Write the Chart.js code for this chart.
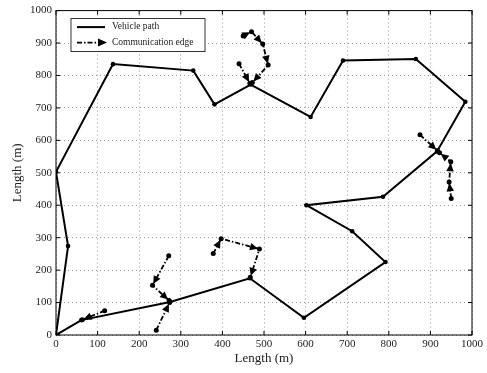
<!DOCTYPE html>
<html>
<head>
<meta charset="utf-8">
<script src="https://cdn.jsdelivr.net/npm/chart.js@4.4.1/dist/chart.umd.min.js"></script>
<style>
  html, body { margin: 0; padding: 0; background: #fff; }
  #wrap { width: 487px; height: 373px; }
</style>
</head>
<body>
<div id="wrap"><canvas id="chart" width="487" height="373"></canvas></div>
<script>
// axis ticks
const tickValues = [0, 100, 200, 300, 400, 500, 600, 700, 800, 900, 1000];
const tickLabels = ['0', '100', '200', '300', '400', '500', '600', '700', '800', '900', '1000'];

// vehicle path waypoints
const pathX = [0, 29, 0, 137, 330, 381, 468, 612, 690, 865, 984, 916, 786, 602, 712, 792, 596, 466, 274, 61, 0];
const pathY = [0, 274, 503, 835, 815, 711, 772, 672, 846, 851, 719, 566, 426, 400, 320, 225, 53, 175, 102, 46, 0];

// communication edges (chains of [x, y], arrow at the end of each segment)
const commTopA = [[440, 836], [466, 776]];
const commTopB = [[450, 922], [470, 935], [497, 897], [510, 832], [472, 778]];
const commRightA = [[875, 617], [917, 568]];
const commRightB = [[950, 421], [945, 472], [949, 534], [922, 562]];
const commMidA = [[378, 251], [397, 297], [489, 265], [467, 178]];
const commLowA = [[271, 244], [232, 153], [272, 106]];
const commLowB = [[241, 15], [273, 100]];
const commLowC = [[117, 75], [63, 47]];

const commEdges = [commTopA, commTopB, commRightA, commRightB, commMidA, commLowA, commLowB, commLowC];

const FONT = "'Liberation Serif', 'DejaVu Serif', serif";

const datasets = [{
  label: 'Vehicle path',
  data: pathX.map((x, i) => ({ x, y: pathY[i] })),
  showLine: true,
  borderColor: '#000',
  backgroundColor: '#000',
  borderWidth: 2,
  pointRadius: 2.3,
  pointBorderWidth: 0
}];
commEdges.forEach(chain => {
  datasets.push({
    label: 'Communication edge',
    comm: true,
    data: chain.map(p => ({ x: p[0], y: p[1] })),
    showLine: true,
    borderColor: '#000',
    backgroundColor: '#000',
    borderWidth: 1.8,
    borderDash: [5, 2, 1.5, 2],
    pointRadius: 2.5,
    pointBorderWidth: 0
  });
});

// arrowheads on communication edges
const arrows = {
  id: 'arrows',
  afterDatasetsDraw(chart) {
    const { ctx, scales: { x, y } } = chart;
    ctx.save();
    ctx.fillStyle = '#000';
    chart.data.datasets.forEach(ds => {
      if (!ds.comm) return;
      for (let i = 0; i < ds.data.length - 1; i++) {
        const x0 = x.getPixelForValue(ds.data[i].x), y0 = y.getPixelForValue(ds.data[i].y);
        const x1 = x.getPixelForValue(ds.data[i + 1].x), y1 = y.getPixelForValue(ds.data[i + 1].y);
        const a = Math.atan2(y1 - y0, x1 - x0);
        const tx = x1 - Math.cos(a) * 1.5, ty = y1 - Math.sin(a) * 1.5;
        const len = 8, hw = 3.8;
        ctx.beginPath();
        ctx.moveTo(tx, ty);
        ctx.lineTo(tx - Math.cos(a) * len - Math.sin(a) * hw, ty - Math.sin(a) * len + Math.cos(a) * hw);
        ctx.lineTo(tx - Math.cos(a) * len + Math.sin(a) * hw, ty - Math.sin(a) * len - Math.cos(a) * hw);
        ctx.closePath();
        ctx.fill();
      }
    });
    ctx.restore();
  }
};

// axes box, inner ticks and legend
const frame = {
  id: 'frame',
  afterDraw(chart) {
    const { ctx, chartArea: a, scales: { x, y } } = chart;
    ctx.save();
    ctx.strokeStyle = '#000';
    ctx.lineWidth = 1;
    ctx.strokeRect(a.left, a.top, a.right - a.left, a.bottom - a.top);
    ctx.beginPath();
    tickValues.forEach(v => {
      const px = x.getPixelForValue(v), py = y.getPixelForValue(v);
      ctx.moveTo(px, a.bottom); ctx.lineTo(px, a.bottom - 4);
      ctx.moveTo(px, a.top); ctx.lineTo(px, a.top + 4);
      ctx.moveTo(a.left, py); ctx.lineTo(a.left + 4, py);
      ctx.moveTo(a.right, py); ctx.lineTo(a.right - 4, py);
    });
    ctx.stroke();

    // legend
    const lx = a.left + 15, ly = a.top + 8, lw = 134, lh = 33;
    ctx.fillStyle = '#fff';
    ctx.fillRect(lx, ly, lw, lh);
    ctx.lineWidth = 0.8;
    ctx.strokeRect(lx, ly, lw, lh);
    ctx.lineWidth = 2;
    ctx.beginPath();
    ctx.moveTo(lx + 6, ly + 8.5); ctx.lineTo(lx + 34, ly + 8.5);
    ctx.stroke();
    ctx.lineWidth = 1.8;
    ctx.setLineDash([5, 2, 1.5, 2]);
    ctx.beginPath();
    ctx.moveTo(lx + 6, ly + 24); ctx.lineTo(lx + 28, ly + 24);
    ctx.stroke();
    ctx.setLineDash([]);
    ctx.fillStyle = '#000';
    ctx.beginPath();
    ctx.moveTo(lx + 36, ly + 24); ctx.lineTo(lx + 27, ly + 20); ctx.lineTo(lx + 27, ly + 28);
    ctx.closePath();
    ctx.fill();
    ctx.fillStyle = '#222';
    ctx.font = '9.5px ' + FONT;
    ctx.textBaseline = 'middle';
    ctx.fillText('Vehicle path', lx + 41, ly + 8);
    ctx.fillText('Communication edge', lx + 41, ly + 23.5);
    ctx.restore();
  }
};

function axis(title, isY) {
  return {
    type: 'linear',
    min: 0,
    max: 1000,
    afterBuildTicks: s => { s.ticks = tickValues.map(v => ({ value: v })); },
    afterFit: s => { if (isY) s.width = 56; else s.height = 38; },
    ticks: {
      padding: isY ? 4 : 3,
      color: '#222',
      font: { family: FONT, size: 11 },
      callback: (v) => tickLabels[tickValues.indexOf(v)]
    },
    grid: { color: '#9a9a9a', lineWidth: 1, drawTicks: false },
    border: { display: false, dash: [1, 3] },
    title: {
      display: true,
      text: title,
      color: '#222',
      font: { family: FONT, size: 13 },
      padding: isY ? { top: 10, bottom: 0 } : { top: 0, bottom: 7 }
    }
  };
}

new Chart(document.getElementById('chart'), {
  type: 'scatter',
  data: { datasets },
  options: {
    responsive: false,
    animation: false,
    layout: { padding: { left: 0, right: 15, top: 7, bottom: 0 } },
    plugins: { legend: { display: false }, tooltip: { enabled: false } },
    scales: {
      x: axis('Length (m)', false),
      y: axis('Length (m)', true)
    }
  },
  plugins: [arrows, frame]
});
</script>
</body>
</html>
